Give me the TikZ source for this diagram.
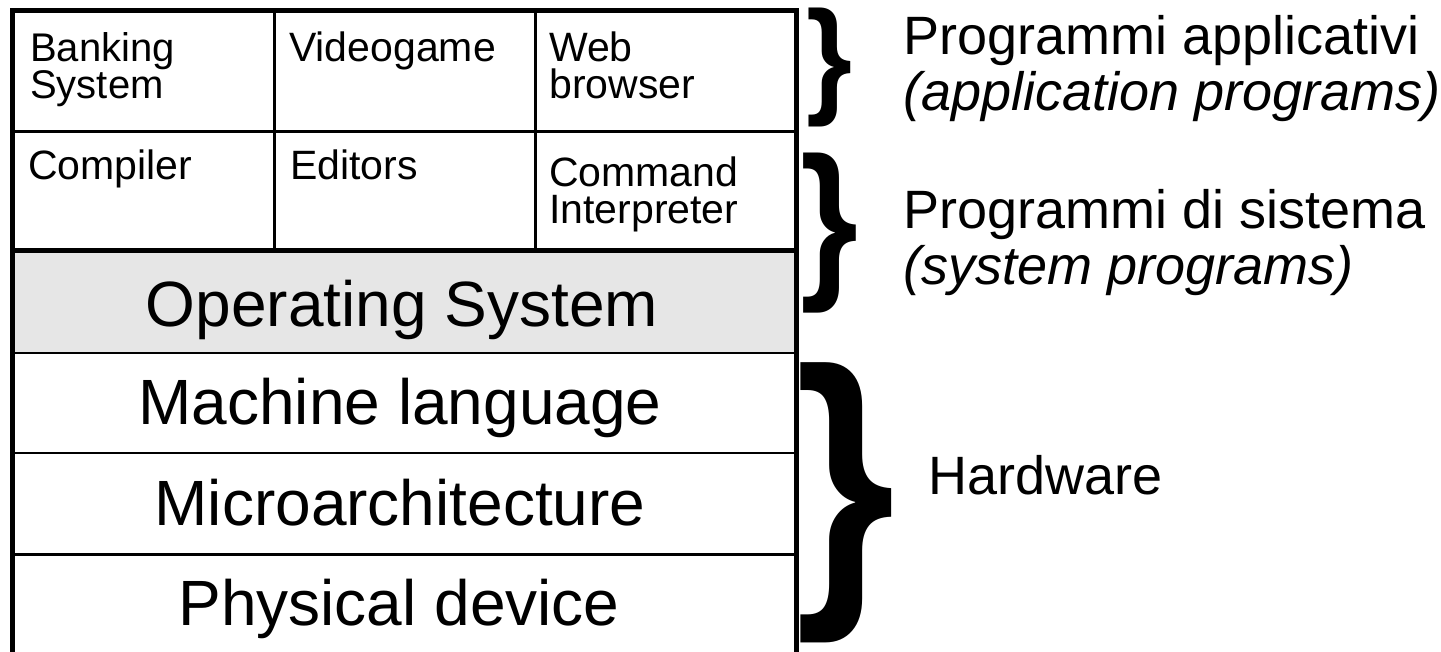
\documentclass[tikz,border=0pt]{standalone}
\usepackage{fontspec}
\setmainfont{Liberation Sans}
\usepackage{graphicx}
\definecolor{osgray}{HTML}{E6E6E6}
\begin{document}
\begin{tikzpicture}[x=1pt,y=-1pt,
  cell/.style={inner sep=0pt, anchor=north west, align=left, font=\fontsize{41}{37}\selectfont},
  layer/.style={inner sep=0pt, anchor=base, font=\fontsize{64}{70}\selectfont},
  side/.style={inner sep=0pt, anchor=base west, font=\fontsize{54}{56}\selectfont},
  bracesym/.style={inner sep=0pt, outer sep=0pt, font=\bfseries},
  frame/.style={line width=5pt},
  midrule/.style={line width=4.5pt},
  rule/.style={line width=2.5pt},
]
\useasboundingbox (0,0) rectangle (1441,652);

% corners of the layer stack
\coordinate (tl) at (12.5,11);
\coordinate (tr) at (796.5,11);
\coordinate (bl) at (12.5,670);
\coordinate (br) at (796.5,670);

\begin{scope}
\clip (0,0) rectangle (1441,652);
% operating system band
\fill[osgray] (12.5,250) rectangle (796.5,353);
% horizontal separators
\draw[rule] (12.5,131.5) -- (796.5,131.5);
\draw[midrule] (12.5,250.5) -- (796.5,250.5);
\draw[rule] (12.5,353) -- (796.5,353);
\draw[rule] (12.5,453) -- (796.5,453);
\draw[rule] (12.5,554.5) -- (796.5,554.5);
% column separators of the two program rows
\draw[rule] (274.5,11) -- (274.5,250);
\draw[rule] (535.5,11) -- (535.5,250);
% outer frame
\draw[frame] (bl) -- (tl) -- (tr) -- (br);
\end{scope}

% program cells
\node[cell, font=\fontsize{40}{33}\selectfont] (bank) at (30,32) {Banking\\System};
\node[cell] (game) at (289,32) {Videogame};
\node[cell] (web) at (549,32) {Web\\browser};
\node[cell] (comp) at (28,150) {Compiler};
\node[cell] (edit) at (290,150) {Editors};
\node[cell] (cmd) at (549,157) {Command\\Interpreter};

% layer labels
\node[layer] (os) at (402,327) {Operating System};
\node[layer] (ml) at (400,424) {Machine language};
\node[layer] (ua) at (400,525) {Microarchitecture};
\node[layer] (pd) at (399,625) {Physical device};

% braces
\node[bracesym] (b1) at (829,67.5) {\resizebox*{46pt}{119pt}{\}}};
\node[bracesym] (b2) at (829,233) {\resizebox*{58pt}{160pt}{\}}};
\node[bracesym] (b3) at (845.5,503) {\resizebox*{100pt}{280pt}{\}}};

% group labels
\node[side] (app1) at (903,55) {Programmi applicativi};
\node[side] (app2) at (903,111) {\itshape(application programs)};
\node[side] (sys1) at (903,229) {Programmi di sistema};
\node[side] (sys2) at (903,285) {\itshape(system programs)};
\node[side] (hw) at (928,494) {Hardware};
\end{tikzpicture}
\end{document}
